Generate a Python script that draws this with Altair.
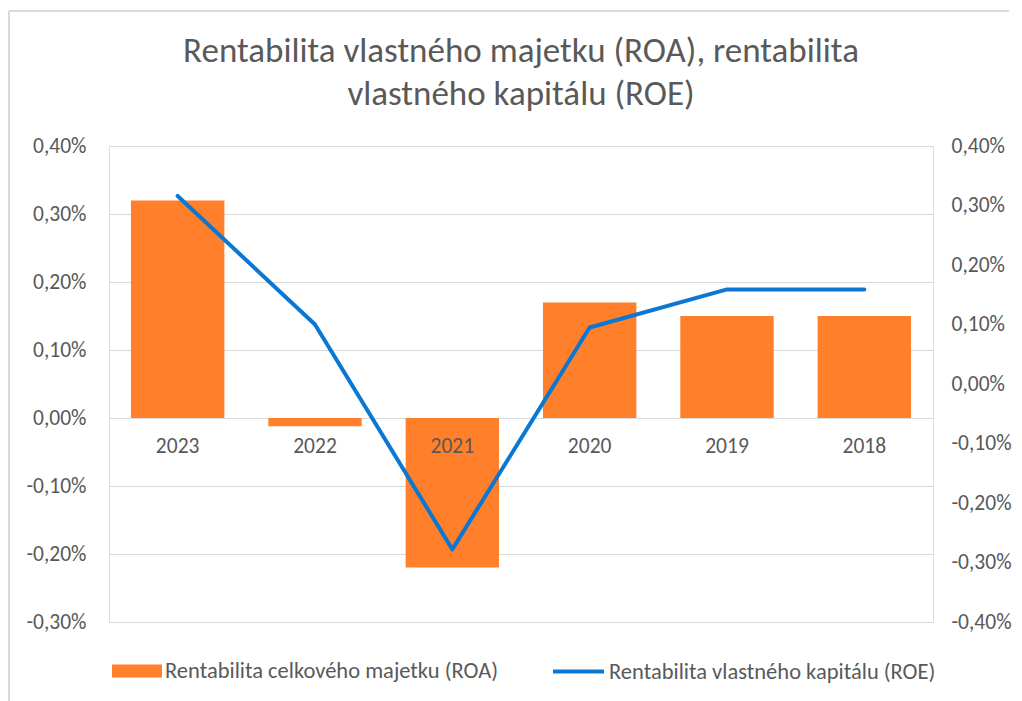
import altair as alt
import pandas as pd

years = ["2023", "2022", "2021", "2020", "2019", "2018"]
roa_pct = [0.32, -0.012, -0.22, 0.17, 0.15, 0.15]
roe_pct = [0.316, 0.100, -0.278, 0.095, 0.159, 0.159]
left_ticks = [-0.003, -0.002, -0.001, 0.0, 0.001, 0.002, 0.003, 0.004]
right_ticks = [-0.004, -0.003, -0.002, -0.001, 0.0, 0.001, 0.002, 0.003, 0.004]
roa_name = "Rentabilita celkového majetku (ROA)"
roe_name = "Rentabilita vlastného kapitálu (ROE)"
title_lines = ["Rentabilita vlastného majetku  (ROA), rentabilita", "vlastného kapitálu (ROE)"]

ORANGE = "#FF7F2A"
BLUE = "#0A78D2"
GREY = "#595959"
GRID = "#D9D9D9"
FONT = "Carlito, Lato, sans-serif"
FS = 21.5
LFS = 22.5

df = pd.DataFrame({
    "year": years,
    "roa": [v / 100 for v in roa_pct],
    "roe": [v / 100 for v in roe_pct],
    "s1": [roa_name] * len(years),
    "s2": [roe_name] * len(years),
})

label_expr = "replace(replace(format(datum.value, '.2%'), '.', ','), '\u2212', '-')"

x = alt.X("year:N", sort=years, axis=None,
          scale=alt.Scale(paddingInner=0.32, paddingOuter=0.16))

base = alt.Chart(df)

bars = base.mark_bar().encode(
    x=x,
    y=alt.Y("roa:Q",
            scale=alt.Scale(domain=[-0.003, 0.004], nice=False, zero=False),
            axis=alt.Axis(orient="left", values=left_ticks, labelExpr=label_expr,
                          title=None, domain=False, ticks=False, grid=True,
                          gridColor=GRID, gridWidth=1, labelPadding=23,
                          labelFontSize=FS, labelColor=GREY, labelFont=FONT,
                          minExtent=100, maxExtent=100)),
    color=alt.Color("s1:N",
                    scale=alt.Scale(domain=[roa_name], range=[ORANGE]),
                    legend=alt.Legend(orient="none", legendX=3, legendY=500,
                                      title=None, padding=0,
                                      symbolType="M-1,-0.26H1V0.26H-1Z",
                                      symbolSize=2500, symbolOpacity=1,
                                      symbolStrokeWidth=0, labelOffset=3,
                                      labelFontSize=LFS, labelColor=GREY,
                                      labelFont=FONT, labelLimit=500)),
)

xlabels = base.mark_text(dy=29, fontSize=FS, color=GREY, font=FONT, baseline="middle").encode(
    x=x,
    y=alt.datum(0),
    text="year:N",
)

left_layer = alt.layer(bars, xlabels)

line = base.mark_line(strokeWidth=4, strokeCap="round", strokeJoin="round").encode(
    x=x,
    y=alt.Y("roe:Q",
            scale=alt.Scale(domain=[-0.004, 0.004], nice=False, zero=False),
            axis=alt.Axis(orient="right", values=right_ticks, labelExpr=label_expr,
                          title=None, domain=False, ticks=False, grid=False,
                          labelPadding=18, labelFontSize=FS, labelColor=GREY,
                          labelFont=FONT)),
    stroke=alt.Stroke("s2:N",
                      scale=alt.Scale(domain=[roe_name], range=[BLUE]),
                      legend=alt.Legend(orient="none", legendX=442, legendY=498,
                                        title=None, padding=0,
                                        symbolType="stroke", symbolSize=2601,
                                        symbolStrokeWidth=4, labelOffset=3,
                                        labelFontSize=LFS, labelColor=GREY,
                                        labelFont=FONT, labelLimit=500)),
)

border_left = alt.Chart(df).mark_rule(color=GRID, strokeWidth=1).encode(
    x=alt.value(-100), y=alt.value(-135), y2=alt.value(555))
border_top = alt.Chart(df).mark_rule(color=GRID, strokeWidth=1).encode(
    x=alt.value(-100), x2=alt.value(900), y=alt.value(-135))

chart = alt.layer(left_layer, line, border_left, border_top).resolve_scale(
    y="independent"
).properties(
    width=824,
    height=476,
    padding={"left": 0, "top": 2, "right": 0, "bottom": 0},
    title=alt.Title(title_lines, fontSize=35, font=FONT, color=GREY,
                    fontWeight="normal", lineHeight=43, anchor="middle",
                    baseline="bottom", offset=33, dy=169),
).configure_view(stroke=None).configure(background="white")

chart.save("out.html", embed_options={"renderer": "svg", "actions": False})
